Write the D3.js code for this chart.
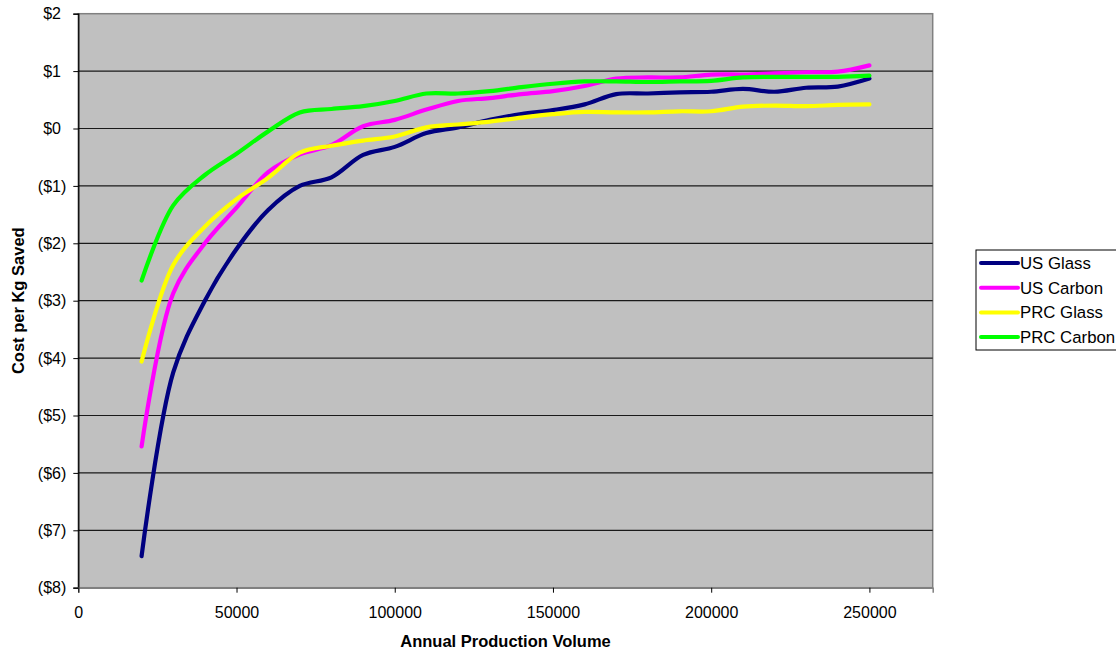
<!DOCTYPE html>
<html><head><meta charset="utf-8">
<script src="https://cdn.jsdelivr.net/npm/d3@7/dist/d3.min.js"></script>
<style>body{margin:0;background:#fff;} text{font-family:Arial,"Liberation Sans",sans-serif;}</style>
</head><body><svg id="c" width="1116" height="654"></svg>
<script>
const volumes = [20000,30000,40000,50000,60000,70000,80000,90000,100000,110000,120000,130000,140000,150000,160000,170000,180000,190000,200000,210000,220000,230000,240000,250000];
const usGlass   = [-7.45,-4.25,-3.0,-2.1,-1.42,-1.0,-0.85,-0.46,-0.32,-0.08,0.02,0.15,0.25,0.32,0.42,0.6,0.61,0.63,0.64,0.69,0.64,0.71,0.73,0.87];
const usCarbon  = [-5.54,-2.87,-2.0,-1.38,-0.76,-0.45,-0.29,0.04,0.15,0.33,0.48,0.53,0.6,0.65,0.74,0.87,0.89,0.89,0.94,0.94,0.96,0.98,0.99,1.1];
const prcGlass  = [-4.06,-2.38,-1.71,-1.23,-0.86,-0.42,-0.3,-0.21,-0.14,0.02,0.07,0.12,0.19,0.25,0.29,0.28,0.28,0.3,0.3,0.38,0.4,0.39,0.41,0.42];
const prcCarbon = [-2.65,-1.34,-0.81,-0.44,-0.05,0.28,0.34,0.39,0.48,0.61,0.61,0.65,0.72,0.78,0.82,0.82,0.81,0.82,0.83,0.89,0.9,0.9,0.9,0.92];
const seriesNames = ["US Glass","US Carbon","PRC Glass","PRC Carbon"];
const seriesColors = ["#000080","#FF00FF","#FFFF00","#00FF00"];
const xTicks = [0,50000,100000,150000,200000,250000];
const yTicks = [2,1,0,-1,-2,-3,-4,-5,-6,-7,-8];

const seriesData = [usGlass,usCarbon,prcGlass,prcCarbon];
const svg = d3.select("#c");
const L=78.3, R=932.7, T=13.7, B=587.7;
const FS = 16;
const x = d3.scaleLinear().domain([0,270000]).range([L,R]);
const y = d3.scaleLinear().domain([-8,2]).range([B,T]);

svg.append("rect").attr("x",L).attr("y",T).attr("width",R-L).attr("height",B-T)
  .attr("fill","#C0C0C0").attr("stroke","#808080").attr("stroke-width",1.5);

svg.append("g").selectAll("line").data(yTicks.filter(d=>d>-8&&d<2)).join("line")
  .attr("x1",L).attr("x2",R).attr("y1",d=>y(d)).attr("y2",d=>y(d))
  .attr("stroke","#1a1a1a").attr("stroke-width",1.2);

const fmt = d => d<0 ? "($"+(-d)+")" : "$"+d;
const yAxis = svg.append("g").attr("transform",`translate(${L},0)`)
  .call(d3.axisLeft(y).tickValues(yTicks).tickFormat(fmt).tickSize(5).tickPadding(7));
yAxis.select(".domain").attr("stroke","#000").attr("stroke-width",1.3);
yAxis.selectAll("text").attr("font-size",FS+"px").attr("fill","#000")
  .attr("dx",d=>d>=0?"-0.333em":null)
  .style("font-family","Arial, 'Liberation Sans', sans-serif");

const xAxis = svg.append("g").attr("transform",`translate(0,${B})`)
  .call(d3.axisBottom(x).tickValues(xTicks).tickFormat(d=>String(d)).tickSize(5).tickPadding(14));
xAxis.select(".domain").attr("stroke","#808080").attr("stroke-width",1.5);
xAxis.selectAll("text").attr("font-size",FS+"px").attr("fill","#000").style("font-family","Arial, 'Liberation Sans', sans-serif");

const line = d3.line().x((d,i)=>x(volumes[i])).y(d=>y(d)).curve(d3.curveCatmullRom.alpha(0.5));
svg.append("g").selectAll("path").data(seriesData).join("path")
  .attr("d",line).attr("fill","none").attr("stroke",(d,i)=>seriesColors[i])
  .attr("stroke-width",4.2).attr("stroke-linecap","round").attr("stroke-linejoin","round");

svg.append("text").attr("x",(L+R)/2).attr("y",647).attr("text-anchor","middle")
  .attr("font-size","16.5px").attr("font-weight","bold").text("Annual Production Volume");
svg.append("text").attr("transform",`translate(24,${(T+B)/2}) rotate(-90)`).attr("text-anchor","middle")
  .attr("font-size","16.5px").attr("font-weight","bold").text("Cost per Kg Saved");

const lg = svg.append("g");
lg.append("rect").attr("x",976).attr("y",250).attr("width",160).attr("height",100)
  .attr("fill","#fff").attr("stroke","#000").attr("stroke-width",1);
seriesNames.forEach((n,i)=>{
  const yy = 263 + i*24.7;
  lg.append("line").attr("x1",981).attr("x2",1018).attr("y1",yy).attr("y2",yy)
    .attr("stroke",seriesColors[i]).attr("stroke-width",4).attr("stroke-linecap","round");
  lg.append("text").attr("x",1020).attr("y",yy+6).attr("font-size","16.8px").text(n);
});
</script></body></html>
